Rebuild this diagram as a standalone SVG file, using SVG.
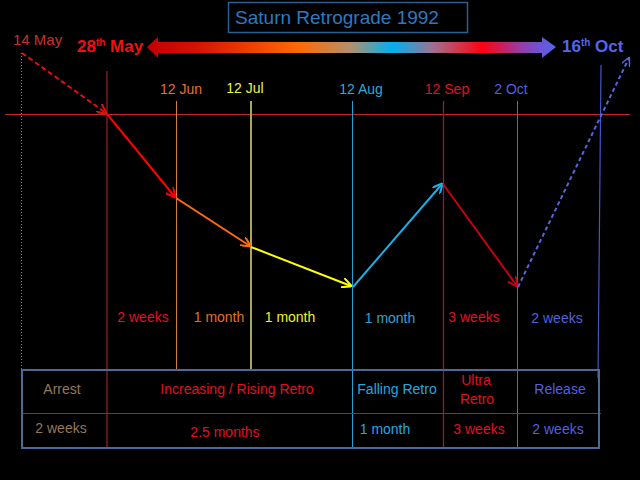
<svg xmlns="http://www.w3.org/2000/svg" width="640" height="480" viewBox="0 0 640 480">
<style>
text{font-family:"Liberation Sans",Arial,sans-serif;font-size:14px}
.c{text-anchor:middle}
.b{font-weight:bold;font-size:17px}
.conn{fill:none;stroke-width:2}
</style>
<defs>
<linearGradient id="grad" gradientUnits="userSpaceOnUse" x1="147" y1="0" x2="556" y2="0">
<stop offset="0" stop-color="#c00000"/>
<stop offset="0.12" stop-color="#d81000"/>
<stop offset="0.37" stop-color="#ff6a00"/>
<stop offset="0.5" stop-color="#b09070"/>
<stop offset="0.6" stop-color="#00b0f0"/>
<stop offset="0.7" stop-color="#a07090"/>
<stop offset="0.82" stop-color="#ff0010"/>
<stop offset="0.92" stop-color="#9040b0"/>
<stop offset="1" stop-color="#4f66f0"/>
</linearGradient>
<marker id="mRedD" viewBox="0 0 10 10" refX="9" refY="5" markerWidth="10" markerHeight="10" orient="auto" markerUnits="userSpaceOnUse"><path d="M0,0 L10,5 L0,10" fill="none" stroke="#e01010" stroke-width="2"/></marker>
<marker id="mRed2" viewBox="0 0 10 10" refX="9" refY="5" markerWidth="10" markerHeight="10" orient="auto" markerUnits="userSpaceOnUse"><path d="M0,0 L10,5 L0,10" fill="none" stroke="#ff0000" stroke-width="2"/></marker>
<marker id="mOrange" viewBox="0 0 10 10" refX="9" refY="5" markerWidth="10" markerHeight="10" orient="auto" markerUnits="userSpaceOnUse"><path d="M0,0 L10,5 L0,10" fill="none" stroke="#ff6a10" stroke-width="2"/></marker>
<marker id="mYellow" viewBox="0 0 10 10" refX="9" refY="5" markerWidth="10" markerHeight="10" orient="auto" markerUnits="userSpaceOnUse"><path d="M0,0 L10,5 L0,10" fill="none" stroke="#ffff00" stroke-width="2"/></marker>
<marker id="mCyan" viewBox="0 0 10 10" refX="9" refY="5" markerWidth="10" markerHeight="10" orient="auto" markerUnits="userSpaceOnUse"><path d="M0,0 L10,5 L0,10" fill="none" stroke="#1aaee6" stroke-width="2"/></marker>
<marker id="mDRed" viewBox="0 0 10 10" refX="9" refY="5" markerWidth="10" markerHeight="10" orient="auto" markerUnits="userSpaceOnUse"><path d="M0,0 L10,5 L0,10" fill="none" stroke="#c80010" stroke-width="2"/></marker>
<marker id="mBlue" viewBox="0 0 10 10" refX="9" refY="5" markerWidth="9" markerHeight="9" orient="auto" markerUnits="userSpaceOnUse"><path d="M0,0 L10,5 L0,10" fill="none" stroke="#5566e0" stroke-width="1.6"/></marker>
</defs>
<rect width="640" height="480" fill="#000"/>

<g id="title">
<rect x="228.5" y="2.5" width="239" height="30" fill="none" stroke="#2a6090" stroke-width="1.5"/>
<text x="337" y="24" class="c" style="font-size:19px" fill="#2a7ac4">Saturn Retrograde 1992</text>
</g>

<g id="timeline-arrow">
<polygon points="147,47 158,37 158,42 542,42 542,37 556,47 542,58 542,53 158,53 158,58" fill="url(#grad)"/>
<text x="77" y="52" class="b" fill="#f01010">28<tspan font-size="10" dy="-6">th</tspan><tspan dy="6"> May</tspan></text>
<text x="562" y="52" class="b" fill="#5068ee">16<tspan font-size="10" dy="-6">th</tspan><tspan dy="6"> Oct</tspan></text>
<text x="13" y="45" fill="#c83030" style="font-size:15px">14 May</text>
</g>

<g id="grid">
<line x1="5" y1="114.5" x2="630" y2="114.5" stroke="#c02828" stroke-width="1"/>
<line x1="21.5" y1="53" x2="21.5" y2="370" stroke="#a07050" stroke-width="1" stroke-dasharray="1,2"/>
<line x1="107" y1="71" x2="107" y2="447" stroke="#7a1c1c" stroke-width="1.5"/>
<line x1="176.5" y1="101" x2="176.5" y2="370" stroke="#d08040" stroke-width="1"/>
<line x1="251" y1="101" x2="251" y2="370" stroke="#a8a855" stroke-width="2"/>
<line x1="352.5" y1="101" x2="352.5" y2="447" stroke="#2aa0d0" stroke-width="1"/>
<line x1="443.5" y1="101" x2="443.5" y2="447" stroke="#8a2030" stroke-width="1.3"/>
<line x1="517.5" y1="101" x2="517.5" y2="447" stroke="#5565d0" stroke-width="1"/>
<line x1="601" y1="65" x2="598" y2="378" stroke="#4555c8" stroke-width="1.2"/>
</g>

<g id="date-labels">
<text x="181" y="94" class="c" fill="#e07030">12 Jun</text>
<text x="245" y="93" class="c" fill="#f0f040">12 Jul</text>
<text x="361" y="94" class="c" fill="#30a8d8">12 Aug</text>
<text x="447" y="94" class="c" fill="#e01020">12 Sep</text>
<text x="511" y="94" class="c" fill="#5060e0">2 Oct</text>
</g>

<g id="connectors">
<line x1="22" y1="53" x2="106" y2="113" class="conn" stroke="#e01010" stroke-width="1.5" stroke-dasharray="5,3" marker-end="url(#mRedD)"/>
<line x1="107" y1="114" x2="175" y2="197" class="conn" stroke="#ff0000" marker-end="url(#mRed2)"/>
<line x1="176" y1="198" x2="250" y2="246" class="conn" stroke="#ff6a10" marker-end="url(#mOrange)"/>
<line x1="251" y1="247" x2="351" y2="286" class="conn" stroke="#ffff00" marker-end="url(#mYellow)"/>
<line x1="353" y1="287" x2="442" y2="184" class="conn" stroke="#1aaee6" marker-end="url(#mCyan)"/>
<line x1="443" y1="184" x2="517" y2="286" class="conn" stroke="#c80010" marker-end="url(#mDRed)"/>
<line x1="518" y1="287" x2="629" y2="58" class="conn" stroke="#5566e0" stroke-width="1.3" stroke-dasharray="4,3" marker-end="url(#mBlue)"/>
</g>

<g id="durations">
<text x="143" y="322" class="c" fill="#e01020">2 weeks</text>
<text x="219" y="322" class="c" fill="#e07020">1 month</text>
<text x="290" y="322" class="c" fill="#f0f020">1 month</text>
<text x="390" y="323" class="c" fill="#30a0d0">1 month</text>
<text x="474" y="322" class="c" fill="#e01020">3 weeks</text>
<text x="557" y="323" class="c" fill="#5060e0">2 weeks</text>
</g>

<g id="table">
<line x1="22" y1="413.5" x2="601" y2="413.5" stroke="#b02020" stroke-width="1.2"/>
<rect x="22" y="370" width="577" height="78" fill="none" stroke="#4a6a9a" stroke-width="2"/>
<text x="62" y="394" class="c" fill="#94785a">Arrest</text>
<text x="61" y="433" class="c" fill="#94785a">2 weeks</text>
<text x="237" y="394" class="c" fill="#e01020">Increasing / Rising Retro</text>
<text x="225" y="437" class="c" fill="#e01020">2.5 months</text>
<text x="397" y="394" class="c" fill="#20a8e0">Falling Retro</text>
<text x="385" y="434" class="c" fill="#20a8e0">1 month</text>
<text x="476" y="385" class="c" fill="#e01020">Ultra</text>
<text x="477" y="404" class="c" fill="#e01020">Retro</text>
<text x="479" y="434" class="c" fill="#e01020">3 weeks</text>
<text x="560" y="394" class="c" fill="#5060e0">Release</text>
<text x="558" y="434" class="c" fill="#5060e0">2 weeks</text>
</g>
</svg>
